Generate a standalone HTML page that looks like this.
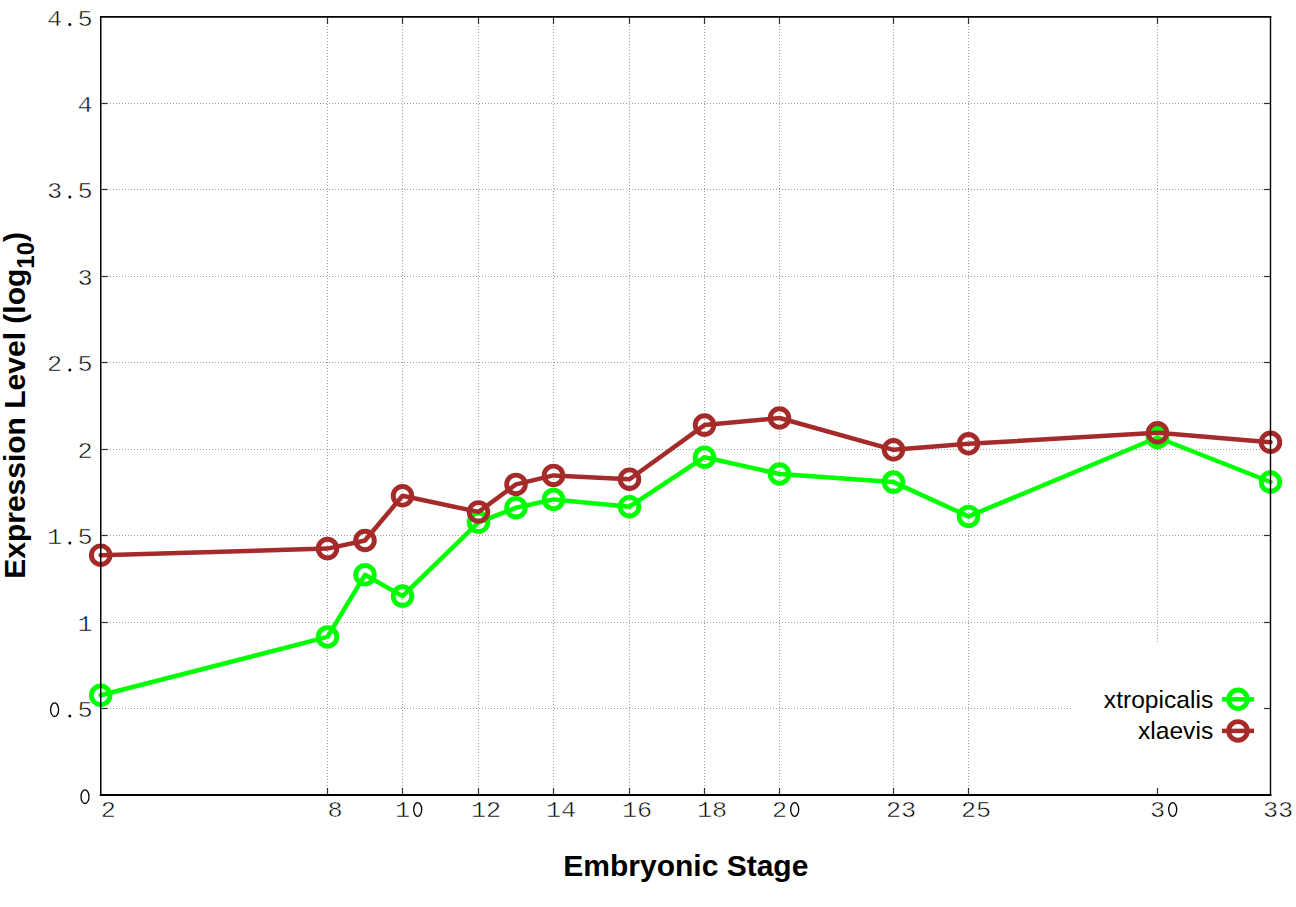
<!DOCTYPE html>
<html><head><meta charset="utf-8"><title>Expression chart</title><style>
html,body{margin:0;padding:0;background:#fff;width:1296px;height:907px;overflow:hidden;}
svg{display:block;font-family:"Liberation Sans", sans-serif;}
</style></head><body>
<svg width="1296" height="907" viewBox="0 0 1296 907">
<g stroke="#a0a0a0" stroke-width="1" stroke-dasharray="1 2" fill="none" shape-rendering="crispEdges"><line x1="327.5" y1="23" x2="327.5" y2="794"/><line x1="402.5" y1="23" x2="402.5" y2="794"/><line x1="478.5" y1="23" x2="478.5" y2="794"/><line x1="553.5" y1="23" x2="553.5" y2="794"/><line x1="629.5" y1="23" x2="629.5" y2="794"/><line x1="704.5" y1="23" x2="704.5" y2="794"/><line x1="779.5" y1="23" x2="779.5" y2="794"/><line x1="893.5" y1="23" x2="893.5" y2="794"/><line x1="968.5" y1="23" x2="968.5" y2="794"/><line x1="1157.5" y1="23" x2="1157.5" y2="643"/><line x1="107" y1="103.5" x2="1264" y2="103.5"/><line x1="107" y1="189.5" x2="1264" y2="189.5"/><line x1="107" y1="276.5" x2="1264" y2="276.5"/><line x1="107" y1="362.5" x2="1264" y2="362.5"/><line x1="107" y1="449.5" x2="1264" y2="449.5"/><line x1="107" y1="535.5" x2="1264" y2="535.5"/><line x1="107" y1="622.5" x2="1264" y2="622.5"/><line x1="107" y1="708.5" x2="1071" y2="708.5"/></g>
<g stroke="#303030" stroke-width="1.2" fill="none"><line x1="327.5" y1="794" x2="327.5" y2="788"/><line x1="327.5" y1="18" x2="327.5" y2="24"/><line x1="402.5" y1="794" x2="402.5" y2="788"/><line x1="402.5" y1="18" x2="402.5" y2="24"/><line x1="478.5" y1="794" x2="478.5" y2="788"/><line x1="478.5" y1="18" x2="478.5" y2="24"/><line x1="553.5" y1="794" x2="553.5" y2="788"/><line x1="553.5" y1="18" x2="553.5" y2="24"/><line x1="629.5" y1="794" x2="629.5" y2="788"/><line x1="629.5" y1="18" x2="629.5" y2="24"/><line x1="704.5" y1="794" x2="704.5" y2="788"/><line x1="704.5" y1="18" x2="704.5" y2="24"/><line x1="779.5" y1="794" x2="779.5" y2="788"/><line x1="779.5" y1="18" x2="779.5" y2="24"/><line x1="893.5" y1="794" x2="893.5" y2="788"/><line x1="893.5" y1="18" x2="893.5" y2="24"/><line x1="968.5" y1="794" x2="968.5" y2="788"/><line x1="968.5" y1="18" x2="968.5" y2="24"/><line x1="1157.5" y1="794" x2="1157.5" y2="788"/><line x1="1157.5" y1="18" x2="1157.5" y2="24"/><line x1="101.5" y1="103.5" x2="107.5" y2="103.5"/><line x1="1270" y1="103.5" x2="1264" y2="103.5"/><line x1="101.5" y1="189.5" x2="107.5" y2="189.5"/><line x1="1270" y1="189.5" x2="1264" y2="189.5"/><line x1="101.5" y1="276.5" x2="107.5" y2="276.5"/><line x1="1270" y1="276.5" x2="1264" y2="276.5"/><line x1="101.5" y1="362.5" x2="107.5" y2="362.5"/><line x1="1270" y1="362.5" x2="1264" y2="362.5"/><line x1="101.5" y1="449.5" x2="107.5" y2="449.5"/><line x1="1270" y1="449.5" x2="1264" y2="449.5"/><line x1="101.5" y1="535.5" x2="107.5" y2="535.5"/><line x1="1270" y1="535.5" x2="1264" y2="535.5"/><line x1="101.5" y1="622.5" x2="107.5" y2="622.5"/><line x1="1270" y1="622.5" x2="1264" y2="622.5"/><line x1="101.5" y1="708.5" x2="107.5" y2="708.5"/><line x1="1270" y1="708.5" x2="1264" y2="708.5"/></g>
<polyline points="100.7,695.3 327.5,636.9 365.0,574.8 402.5,596.1 478.5,522.3 516.0,507.7 553.5,499.4 629.5,506.7 704.5,457.2 779.5,474.0 893.5,482.1 968.5,516.4 1157.5,437.5 1270.5,482.0" fill="none" stroke="#00ff00" stroke-width="4.5" stroke-linejoin="round" stroke-linecap="round"/><circle cx="100.7" cy="695.3" r="9.3" fill="none" stroke="#00ff00" stroke-width="4.9"/><circle cx="327.5" cy="636.9" r="9.3" fill="none" stroke="#00ff00" stroke-width="4.9"/><circle cx="365.0" cy="574.8" r="9.3" fill="none" stroke="#00ff00" stroke-width="4.9"/><circle cx="402.5" cy="596.1" r="9.3" fill="none" stroke="#00ff00" stroke-width="4.9"/><circle cx="478.5" cy="522.3" r="9.3" fill="none" stroke="#00ff00" stroke-width="4.9"/><circle cx="516.0" cy="507.7" r="9.3" fill="none" stroke="#00ff00" stroke-width="4.9"/><circle cx="553.5" cy="499.4" r="9.3" fill="none" stroke="#00ff00" stroke-width="4.9"/><circle cx="629.5" cy="506.7" r="9.3" fill="none" stroke="#00ff00" stroke-width="4.9"/><circle cx="704.5" cy="457.2" r="9.3" fill="none" stroke="#00ff00" stroke-width="4.9"/><circle cx="779.5" cy="474.0" r="9.3" fill="none" stroke="#00ff00" stroke-width="4.9"/><circle cx="893.5" cy="482.1" r="9.3" fill="none" stroke="#00ff00" stroke-width="4.9"/><circle cx="968.5" cy="516.4" r="9.3" fill="none" stroke="#00ff00" stroke-width="4.9"/><circle cx="1157.5" cy="437.5" r="9.3" fill="none" stroke="#00ff00" stroke-width="4.9"/><circle cx="1270.5" cy="482.0" r="9.3" fill="none" stroke="#00ff00" stroke-width="4.9"/>
<polyline points="100.7,555.2 327.5,548.6 365.0,540.5 402.5,495.8 478.5,511.9 516.0,484.4 553.5,475.4 629.5,479.2 704.5,425.1 779.5,418.0 893.5,449.8 968.5,443.8 1157.5,432.8 1270.5,442.3" fill="none" stroke="#a52a2a" stroke-width="4.5" stroke-linejoin="round" stroke-linecap="round"/><circle cx="100.7" cy="555.2" r="9.3" fill="none" stroke="#a52a2a" stroke-width="4.9"/><circle cx="327.5" cy="548.6" r="9.3" fill="none" stroke="#a52a2a" stroke-width="4.9"/><circle cx="365.0" cy="540.5" r="9.3" fill="none" stroke="#a52a2a" stroke-width="4.9"/><circle cx="402.5" cy="495.8" r="9.3" fill="none" stroke="#a52a2a" stroke-width="4.9"/><circle cx="478.5" cy="511.9" r="9.3" fill="none" stroke="#a52a2a" stroke-width="4.9"/><circle cx="516.0" cy="484.4" r="9.3" fill="none" stroke="#a52a2a" stroke-width="4.9"/><circle cx="553.5" cy="475.4" r="9.3" fill="none" stroke="#a52a2a" stroke-width="4.9"/><circle cx="629.5" cy="479.2" r="9.3" fill="none" stroke="#a52a2a" stroke-width="4.9"/><circle cx="704.5" cy="425.1" r="9.3" fill="none" stroke="#a52a2a" stroke-width="4.9"/><circle cx="779.5" cy="418.0" r="9.3" fill="none" stroke="#a52a2a" stroke-width="4.9"/><circle cx="893.5" cy="449.8" r="9.3" fill="none" stroke="#a52a2a" stroke-width="4.9"/><circle cx="968.5" cy="443.8" r="9.3" fill="none" stroke="#a52a2a" stroke-width="4.9"/><circle cx="1157.5" cy="432.8" r="9.3" fill="none" stroke="#a52a2a" stroke-width="4.9"/><circle cx="1270.5" cy="442.3" r="9.3" fill="none" stroke="#a52a2a" stroke-width="4.9"/>
<line x1="1222" y1="699.3" x2="1254" y2="699.3" stroke="#00ff00" stroke-width="4.5"/><circle cx="1238" cy="699.3" r="9.3" fill="none" stroke="#00ff00" stroke-width="4.9"/>
<line x1="1222" y1="730.9" x2="1254" y2="730.9" stroke="#a52a2a" stroke-width="4.5"/><circle cx="1238" cy="730.9" r="9.3" fill="none" stroke="#a52a2a" stroke-width="4.9"/>
<g font-family="Liberation Sans" font-size="24.6" fill="#000" text-anchor="end"><text x="1213.2" y="708">xtropicalis</text><text x="1213.2" y="739">xlaevis</text></g>
<g stroke="#000" fill="none" stroke-linecap="square"><line x1="100.75" y1="16.9" x2="1270.5" y2="16.9" stroke-width="1.6"/><line x1="100.75" y1="795" x2="1270.5" y2="795" stroke-width="1.9"/><line x1="100.75" y1="16.9" x2="100.75" y2="795" stroke-width="1.5"/><line x1="1270.5" y1="16.9" x2="1270.5" y2="795" stroke-width="1.4"/></g>
<g font-family="Liberation Mono" font-size="25.3" fill="#000" stroke="#fff" stroke-width="0.6" text-anchor="middle"><text transform="translate(54.6,25.7) scale(1,0.88)">4</text><circle cx="69.8" cy="24.4" r="1.5" fill="#000" stroke="none"/><text transform="translate(85.0,25.7) scale(1,0.88)">5</text><text transform="translate(85.0,112.2) scale(1,0.88)">4</text><text transform="translate(54.6,198.2) scale(1,0.88)">3</text><circle cx="69.8" cy="196.9" r="1.5" fill="#000" stroke="none"/><text transform="translate(85.0,198.2) scale(1,0.88)">5</text><text transform="translate(85.0,285.2) scale(1,0.88)">3</text><text transform="translate(54.6,371.2) scale(1,0.88)">2</text><circle cx="69.8" cy="369.9" r="1.5" fill="#000" stroke="none"/><text transform="translate(85.0,371.2) scale(1,0.88)">5</text><text transform="translate(85.0,458.2) scale(1,0.88)">2</text><text transform="translate(54.6,544.2) scale(1,0.88)">1</text><circle cx="69.8" cy="542.9" r="1.5" fill="#000" stroke="none"/><text transform="translate(85.0,544.2) scale(1,0.88)">5</text><text transform="translate(85.0,631.2) scale(1,0.88)">1</text><circle cx="69.8" cy="715.9" r="1.5" fill="#000" stroke="none"/><text transform="translate(85.0,717.2) scale(1,0.88)">5</text><text transform="translate(108.3,817.0) scale(1,0.88)">2</text><text transform="translate(335.1,817.0) scale(1,0.88)">8</text><text transform="translate(402.5,817.0) scale(1,0.88)">1</text><text transform="translate(478.5,817.0) scale(1,0.88)">1</text><text transform="translate(493.7,817.0) scale(1,0.88)">2</text><text transform="translate(553.5,817.0) scale(1,0.88)">1</text><text transform="translate(568.7,817.0) scale(1,0.88)">4</text><text transform="translate(629.5,817.0) scale(1,0.88)">1</text><text transform="translate(644.7,817.0) scale(1,0.88)">6</text><text transform="translate(704.5,817.0) scale(1,0.88)">1</text><text transform="translate(719.7,817.0) scale(1,0.88)">8</text><text transform="translate(779.5,817.0) scale(1,0.88)">2</text><text transform="translate(893.5,817.0) scale(1,0.88)">2</text><text transform="translate(908.7,817.0) scale(1,0.88)">3</text><text transform="translate(968.5,817.0) scale(1,0.88)">2</text><text transform="translate(983.7,817.0) scale(1,0.88)">5</text><text transform="translate(1157.5,817.0) scale(1,0.88)">3</text><text transform="translate(1270.5,817.0) scale(1,0.88)">3</text><text transform="translate(1285.7,817.0) scale(1,0.88)">3</text></g>
<g fill="none" stroke="#000" stroke-width="1.3"><ellipse cx="54.6" cy="709.7" rx="4.0" ry="6.8"/><ellipse cx="85.0" cy="796.7" rx="4.0" ry="6.8"/><ellipse cx="417.7" cy="809.5" rx="4.0" ry="6.8"/><ellipse cx="794.7" cy="809.5" rx="4.0" ry="6.8"/><ellipse cx="1172.7" cy="809.5" rx="4.0" ry="6.8"/></g>
<text x="563.3" y="876" font-family="Liberation Sans" font-weight="bold" font-size="30" fill="#000">Embryonic Stage</text>
<text transform="translate(25.4,578.8) rotate(-90)" font-family="Liberation Sans" font-weight="bold" font-size="30" fill="#000">Expression Level (log<tspan font-size="24" dy="9">10</tspan><tspan dy="-9">)</tspan></text>
</svg>
</body></html>
